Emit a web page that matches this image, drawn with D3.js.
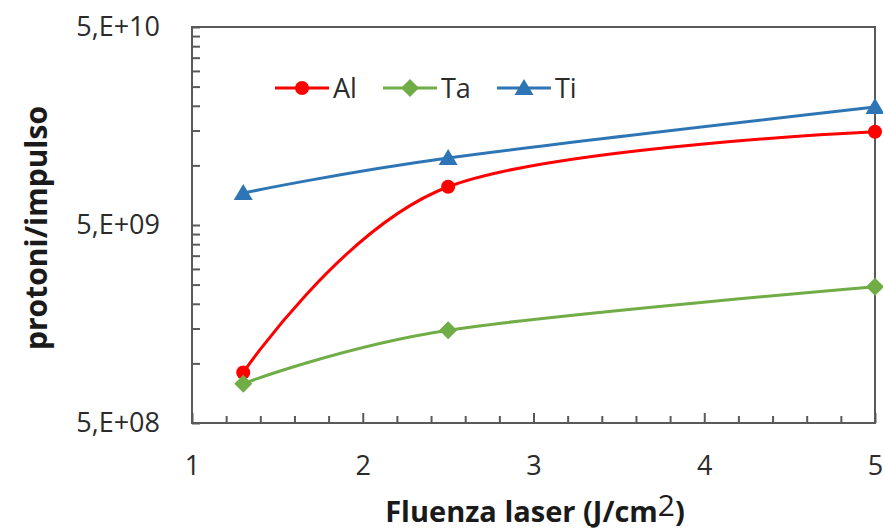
<!DOCTYPE html>
<html>
<head>
<meta charset="utf-8">
<script src="https://cdn.jsdelivr.net/npm/d3@7"></script>
<style>
  html, body { margin: 0; padding: 0; background: #fff; }
  svg { display: block; font-family: "Open Sans", sans-serif; }
</style>
</head>
<body>
<svg id="chart" width="883" height="532"></svg>
<script>
// ---- data ----
const fluence = [1.3, 2.5, 5];
const seriesNames = ["Al", "Ta", "Ti"];
const alValues = [9.0e8, 7.8e9, 1.48e10];
const taValues = [7.9e8, 1.47e9, 2.44e9];
const tiValues = [7.25e9, 1.09e10, 1.97e10];
const seriesColors = ["#ff0000", "#70ad47", "#2e75b6"];
const seriesMarkers = ["circle", "diamond", "triangle"];
const xTickValues = [1, 2, 3, 4, 5];
const xTickLabels = ["1", "2", "3", "4", "5"];
const yTickValues = [5e8, 5e9, 5e10];
const yTickLabels = ["5,E+08", "5,E+09", "5,E+10"];
const xTitle = "Fluenza laser (J/cm";
const yTitle = "protoni/impulso";

(function () {
const series = seriesNames.map((name, i) => ({
  name,
  color: seriesColors[i],
  marker: seriesMarkers[i],
  values: [alValues, taValues, tiValues][i].map((v, j) => ({ x: fluence[j], y: v }))
}));

// ---- layout ----
const svg = d3.select("#chart");
const pLeft = 192, pRight = 875, pTop = 27, pBottom = 423;
const x = d3.scaleLinear().domain([1, 5]).range([pLeft, pRight]);
const y = d3.scaleLog().domain([5e8, 5e10]).range([pBottom, pTop]);

const axisColor = "#595959";
const textColor = "#2b2b2b";

// minor ticks
const xMinor = d3.range(1, 5.0001, 0.2).map(v => +v.toFixed(1)).filter(v => !xTickValues.includes(v));
const yMinor = [];
yTickValues.slice(0, -1).forEach(m => { for (let k = 2; k <= 9; k++) yMinor.push(m * k); });

// frame
svg.append("rect")
  .attr("x", pLeft).attr("y", pTop)
  .attr("width", pRight - pLeft).attr("height", pBottom - pTop)
  .attr("fill", "none").attr("stroke", axisColor).attr("stroke-width", 2);

// y minor ticks
svg.append("g").attr("transform", `translate(${pLeft},0)`)
  .call(d3.axisLeft(y).tickValues(yMinor).tickSize(-8).tickFormat(""))
  .call(g => g.select(".domain").remove())
  .call(g => g.selectAll("line").attr("stroke", axisColor).attr("stroke-width", 2));

// y major
svg.append("g").attr("transform", `translate(${pLeft},0)`)
  .call(d3.axisLeft(y).tickValues(yTickValues).tickSize(-8).tickPadding(32)
    .tickFormat((d, i) => yTickLabels[i]))
  .call(g => g.select(".domain").remove())
  .call(g => g.selectAll("line").attr("stroke", axisColor).attr("stroke-width", 2))
  .call(g => g.selectAll("text").attr("fill", textColor)
    .style("font-family", '"Open Sans", sans-serif').style("font-size", "27px"));

// x minor
svg.append("g").attr("transform", `translate(0,${pBottom})`)
  .call(d3.axisBottom(x).tickValues(xMinor).tickSize(-7).tickFormat(""))
  .call(g => g.select(".domain").remove())
  .call(g => g.selectAll("line").attr("stroke", axisColor).attr("stroke-width", 2));

// x major
svg.append("g").attr("transform", `translate(0,${pBottom})`)
  .call(d3.axisBottom(x).tickValues(xTickValues).tickSize(-10).tickPadding(33)
    .tickFormat((d, i) => xTickLabels[i]))
  .call(g => g.select(".domain").remove())
  .call(g => g.selectAll("line").attr("stroke", axisColor).attr("stroke-width", 2))
  .call(g => g.selectAll("text").attr("fill", textColor)
    .style("font-family", '"Open Sans", sans-serif').style("font-size", "27px"));

// lines
const line = d3.line().x(d => x(d.x)).y(d => y(d.y)).curve(d3.curveCardinal.tension(0));

function drawMarker(g, type, color, cx, cy) {
  if (type === "circle") {
    g.append("circle").attr("cx", cx).attr("cy", cy).attr("r", 7).attr("fill", color);
  } else if (type === "diamond") {
    g.append("path")
      .attr("d", `M${cx},${cy - 9}L${cx + 9},${cy}L${cx},${cy + 9}L${cx - 9},${cy}Z`)
      .attr("fill", color);
  } else {
    g.append("path")
      .attr("d", `M${cx},${cy - 9}L${cx + 9.5},${cy + 7}L${cx - 9.5},${cy + 7}Z`)
      .attr("fill", color);
  }
}

series.forEach(s => {
  svg.append("path").datum(s.values)
    .attr("d", line).attr("fill", "none")
    .attr("stroke", s.color).attr("stroke-width", 3);
  const mg = svg.append("g");
  s.values.forEach(d => drawMarker(mg, s.marker, s.color, x(d.x), y(d.y)));
});

// legend
const legendX = [275, 383, 497];
const legendY = 88;
series.forEach((s, i) => {
  const g = svg.append("g");
  const x0 = legendX[i];
  g.append("line").attr("x1", x0).attr("x2", x0 + 54)
    .attr("y1", legendY).attr("y2", legendY)
    .attr("stroke", s.color).attr("stroke-width", 3);
  drawMarker(g, s.marker, s.color, x0 + 27, legendY);
  g.append("text").attr("x", x0 + 58).attr("y", legendY + 10)
    .attr("fill", textColor).style("font-size", "27px").text(s.name);
});

// axis titles
const xt = svg.append("text")
  .attr("x", 535).attr("y", 522)
  .attr("text-anchor", "middle")
  .attr("fill", "#1a1a1a")
  .style("font-size", "29px").style("font-weight", "bold");
xt.append("tspan").text(xTitle);
xt.append("tspan").attr("dy", -6).style("font-weight", "normal").style("font-size", "30px").text("2");
xt.append("tspan").attr("dy", 6).text(")");

svg.append("text")
  .attr("transform", "translate(47,228) rotate(-90)")
  .attr("text-anchor", "middle")
  .attr("fill", "#1a1a1a")
  .style("font-size", "30px").style("font-weight", "bold")
  .text(yTitle);
})();
</script>
</body>
</html>
